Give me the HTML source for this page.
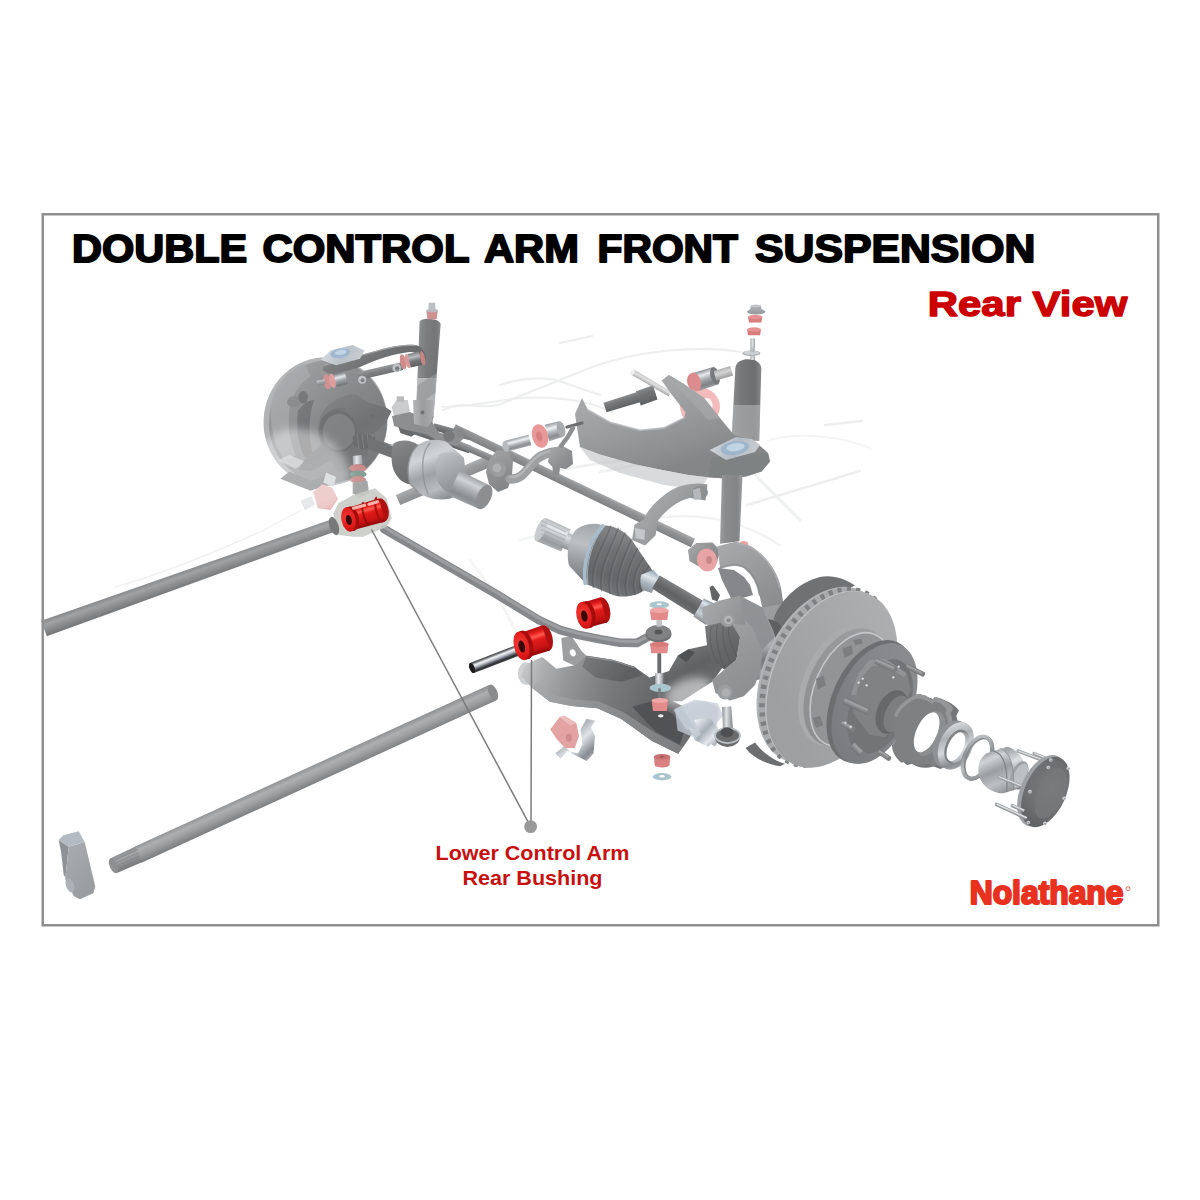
<!DOCTYPE html>
<html><head><meta charset="utf-8">
<style>
html,body{margin:0;padding:0;background:#fff;}
body{width:1200px;height:1200px;overflow:hidden;position:relative;font-family:"Liberation Sans",sans-serif;}
svg{position:absolute;left:0;top:0;}
text{font-family:"Liberation Sans",sans-serif;font-weight:bold;}
</style></head><body>
<svg width="1200" height="1200" viewBox="0 0 1200 1200">
<defs>
<filter id="b1" x="-10%" y="-10%" width="120%" height="120%"><feGaussianBlur stdDeviation="0.6"/></filter>
<filter id="b2" x="-20%" y="-20%" width="140%" height="140%"><feGaussianBlur stdDeviation="1.5"/></filter>
<filter id="b4" x="-30%" y="-30%" width="160%" height="160%"><feGaussianBlur stdDeviation="4"/></filter>
<linearGradient id="g1" gradientUnits="userSpaceOnUse" x1="186.1" y1="570.2" x2="190.9" y2="583.8"><stop offset="0" stop-color="#888a8c"/><stop offset="0.3" stop-color="#a0a2a4"/><stop offset="0.55" stop-color="#929496"/><stop offset="1" stop-color="#787a7c"/></linearGradient>
<linearGradient id="g2" gradientUnits="userSpaceOnUse" x1="311.7" y1="765.9" x2="318.8" y2="781.6"><stop offset="0" stop-color="#909294"/><stop offset="0.3" stop-color="#adafb1"/><stop offset="0.6" stop-color="#9c9ea0"/><stop offset="1" stop-color="#7e8082"/></linearGradient>
<linearGradient id="g3" gradientUnits="userSpaceOnUse" x1="122.9" y1="852.4" x2="129.6" y2="867.5"><stop offset="0" stop-color="#8a8c8e"/><stop offset="0.3" stop-color="#a4a6a8"/><stop offset="1" stop-color="#77797b"/></linearGradient>
<linearGradient id="g4" gradientUnits="userSpaceOnUse" x1="66.7" y1="853.3" x2="96.0" y2="880.0"><stop offset="0" stop-color="#a6aaae"/><stop offset="1" stop-color="#9a9ea2"/></linearGradient>
<linearGradient id="g5" gradientUnits="userSpaceOnUse" x1="100.0" y1="500.0" x2="700.0" y2="900.0"><stop offset="0" stop-color="#8a8c8e"/><stop offset="0.5" stop-color="#7a7c7e"/><stop offset="1" stop-color="#707274"/></linearGradient>
<linearGradient id="g6" gradientUnits="userSpaceOnUse" x1="915.0" y1="0.0" x2="1040.0" y2="0.0"><stop offset="0" stop-color="#828486"/><stop offset="0.35" stop-color="#6e7072"/><stop offset="0.8" stop-color="#66686a"/><stop offset="1" stop-color="#7e8082"/></linearGradient>
<linearGradient id="g7" gradientUnits="userSpaceOnUse" x1="379.3" y1="367.2" x2="381.1" y2="375.0"><stop offset="0" stop-color="#8c8e90"/><stop offset="0.4" stop-color="#747678"/><stop offset="1" stop-color="#5f6163"/></linearGradient>
<linearGradient id="g8" gradientUnits="userSpaceOnUse" x1="500.0" y1="330.0" x2="560.0" y2="450.0"><stop offset="0" stop-color="#8e9092"/><stop offset="0.35" stop-color="#66686a"/><stop offset="1" stop-color="#5c5e60"/></linearGradient>
<linearGradient id="g9" gradientUnits="userSpaceOnUse" x1="400.0" y1="310.0" x2="620.0" y2="400.0"><stop offset="0" stop-color="#d0d4d8"/><stop offset="0.5" stop-color="#aeb8c0"/><stop offset="1" stop-color="#c4c8cc"/></linearGradient>
<linearGradient id="g10" gradientUnits="userSpaceOnUse" x1="339.2" y1="373.3" x2="342.3" y2="385.4"><stop offset="0" stop-color="#6c7073"/><stop offset="0.3" stop-color="#e0e4e6"/><stop offset="0.6" stop-color="#8e9295"/><stop offset="1" stop-color="#5c5e60"/></linearGradient>
<linearGradient id="g11" gradientUnits="userSpaceOnUse" x1="320.5" y1="380.1" x2="321.6" y2="385.0"><stop offset="0" stop-color="#c0c4c7"/><stop offset="0.5" stop-color="#8e9295"/><stop offset="1" stop-color="#707274"/></linearGradient>
<linearGradient id="g12" gradientUnits="userSpaceOnUse" x1="413.3" y1="352.7" x2="416.4" y2="366.3"><stop offset="0" stop-color="#707274"/><stop offset="0.3" stop-color="#b4b8bb"/><stop offset="0.6" stop-color="#66686a"/><stop offset="1" stop-color="#4e5052"/></linearGradient>
<linearGradient id="g13" gradientUnits="userSpaceOnUse" x1="400.0" y1="580.0" x2="640.0" y2="980.0"><stop offset="0" stop-color="#747678"/><stop offset="0.5" stop-color="#646668"/><stop offset="1" stop-color="#707274"/></linearGradient>
<linearGradient id="g14" gradientUnits="userSpaceOnUse" x1="442.0" y1="435.6" x2="439.4" y2="443.2"><stop offset="0" stop-color="#86888a"/><stop offset="0.4" stop-color="#707274"/><stop offset="1" stop-color="#5c5e60"/></linearGradient>
<linearGradient id="g15" gradientUnits="userSpaceOnUse" x1="452.6" y1="428.3" x2="450.7" y2="435.0"><stop offset="0" stop-color="#86888a"/><stop offset="0.4" stop-color="#707274"/><stop offset="1" stop-color="#5c5e60"/></linearGradient>
<linearGradient id="g16" gradientUnits="userSpaceOnUse" x1="387.5" y1="443.3" x2="383.8" y2="452.1"><stop offset="0" stop-color="#77797b"/><stop offset="0.4" stop-color="#5f6163"/><stop offset="1" stop-color="#4e5052"/></linearGradient>
<linearGradient id="g17" gradientUnits="userSpaceOnUse" x1="394.2" y1="445.2" x2="389.6" y2="455.7"><stop offset="0" stop-color="#9a9ea1"/><stop offset="0.4" stop-color="#e0e4e6"/><stop offset="1" stop-color="#7e8285"/></linearGradient>
<linearGradient id="g18" gradientUnits="userSpaceOnUse" x1="560.0" y1="0.0" x2="615.0" y2="0.0"><stop offset="0" stop-color="#9a9ea1"/><stop offset="0.4" stop-color="#e4e8ea"/><stop offset="1" stop-color="#8a8e91"/></linearGradient>
<linearGradient id="g19" gradientUnits="userSpaceOnUse" x1="250.0" y1="300.0" x2="440.0" y2="500.0"><stop offset="0" stop-color="#ffffff" stop-opacity="0.3"/><stop offset="0.5" stop-color="#ffffff" stop-opacity="0.1"/><stop offset="1" stop-color="#ffffff" stop-opacity="0"/></linearGradient>
<linearGradient id="g20" gradientUnits="userSpaceOnUse" x1="652.6" y1="380.7" x2="649.9" y2="385.5"><stop offset="0" stop-color="#c9c9c9"/><stop offset="0.4" stop-color="#e2e2e2"/><stop offset="1" stop-color="#a9a9a9"/></linearGradient>
<linearGradient id="g21" gradientUnits="userSpaceOnUse" x1="800.0" y1="0.0" x2="970.0" y2="0.0"><stop offset="0" stop-color="#86888a"/><stop offset="0.3" stop-color="#747678"/><stop offset="0.75" stop-color="#6c6e70"/><stop offset="1" stop-color="#888a8c"/></linearGradient>
<linearGradient id="g22" gradientUnits="userSpaceOnUse" x1="902.0" y1="0.0" x2="930.0" y2="0.0"><stop offset="0" stop-color="#aaaeb2"/><stop offset="0.5" stop-color="#dfe3e5"/><stop offset="1" stop-color="#9a9ea2"/></linearGradient>
<linearGradient id="g23" gradientUnits="userSpaceOnUse" x1="628.4" y1="394.7" x2="631.6" y2="404.8"><stop offset="0" stop-color="#8a8c8e"/><stop offset="0.3" stop-color="#77797b"/><stop offset="1" stop-color="#5f6163"/></linearGradient>
<linearGradient id="g24" gradientUnits="userSpaceOnUse" x1="644.2" y1="388.3" x2="649.1" y2="402.5"><stop offset="0" stop-color="#8a8c8e"/><stop offset="0.3" stop-color="#747678"/><stop offset="1" stop-color="#5f6163"/></linearGradient>
<linearGradient id="g25" gradientUnits="userSpaceOnUse" x1="300.0" y1="560.0" x2="420.0" y2="930.0"><stop offset="0" stop-color="#a4a6a8"/><stop offset="0.4" stop-color="#989a9c"/><stop offset="0.8" stop-color="#8c8e90"/><stop offset="1" stop-color="#848688"/></linearGradient>
<linearGradient id="g26" gradientUnits="userSpaceOnUse" x1="750.0" y1="740.0" x2="1000.0" y2="850.0"><stop offset="0" stop-color="#d4d8dc"/><stop offset="0.5" stop-color="#b4bcc4"/><stop offset="1" stop-color="#ccd0d4"/></linearGradient>
<linearGradient id="g27" gradientUnits="userSpaceOnUse" x1="702.6" y1="370.1" x2="708.2" y2="387.7"><stop offset="0" stop-color="#8e9295"/><stop offset="0.25" stop-color="#e6eaec"/><stop offset="0.5" stop-color="#a8acaf"/><stop offset="0.8" stop-color="#7e8285"/><stop offset="1" stop-color="#9a9ea1"/></linearGradient>
<linearGradient id="g28" gradientUnits="userSpaceOnUse" x1="721.9" y1="368.5" x2="724.8" y2="378.1"><stop offset="0" stop-color="#b0b0b0"/><stop offset="0.4" stop-color="#d6d6d6"/><stop offset="1" stop-color="#9c9c9c"/></linearGradient>
<linearGradient id="g29" gradientUnits="userSpaceOnUse" x1="442.7" y1="474.7" x2="447.3" y2="485.3"><stop offset="0" stop-color="#a8aaac"/><stop offset="0.5" stop-color="#929496"/><stop offset="1" stop-color="#86888a"/></linearGradient>
<linearGradient id="g30" gradientUnits="userSpaceOnUse" x1="451.3" y1="437.5" x2="448.7" y2="443.5"><stop offset="0" stop-color="#a0a2a4"/><stop offset="0.4" stop-color="#8a8c8e"/><stop offset="1" stop-color="#747678"/></linearGradient>
<linearGradient id="g31" gradientUnits="userSpaceOnUse" x1="575.5" y1="481.4" x2="571.5" y2="489.6"><stop offset="0" stop-color="#a6a8aa"/><stop offset="0.3" stop-color="#929496"/><stop offset="1" stop-color="#7e8082"/></linearGradient>
<linearGradient id="g32" gradientUnits="userSpaceOnUse" x1="165.0" y1="0.0" x2="265.0" y2="0.0"><stop offset="0" stop-color="#b4b6b8"/><stop offset="0.5" stop-color="#9a9c9e"/><stop offset="1" stop-color="#aaacae"/></linearGradient>
<linearGradient id="g33" gradientUnits="userSpaceOnUse" x1="540.0" y1="250.0" x2="660.0" y2="460.0"><stop offset="0" stop-color="#a4a6a8"/><stop offset="0.5" stop-color="#8e9092"/><stop offset="1" stop-color="#7e8082"/></linearGradient>
<linearGradient id="g34" gradientUnits="userSpaceOnUse" x1="840.0" y1="230.0" x2="960.0" y2="370.0"><stop offset="0" stop-color="#a8aaac"/><stop offset="0.5" stop-color="#909294"/><stop offset="1" stop-color="#808284"/></linearGradient>
<linearGradient id="g35" gradientUnits="userSpaceOnUse" x1="516.4" y1="437.9" x2="519.2" y2="448.5"><stop offset="0" stop-color="#9a9ea1"/><stop offset="0.3" stop-color="#eef2f4"/><stop offset="0.55" stop-color="#b0b4b7"/><stop offset="0.8" stop-color="#8a8e91"/><stop offset="1" stop-color="#a4a8ab"/></linearGradient>
<linearGradient id="g36" gradientUnits="userSpaceOnUse" x1="551.7" y1="423.1" x2="556.3" y2="438.9"><stop offset="0" stop-color="#9a9ea1"/><stop offset="0.3" stop-color="#eef2f4"/><stop offset="0.55" stop-color="#b0b4b7"/><stop offset="0.8" stop-color="#8a8e91"/><stop offset="1" stop-color="#a4a8ab"/></linearGradient>
<linearGradient id="g37" gradientUnits="userSpaceOnUse" x1="70.0" y1="210.0" x2="160.0" y2="420.0"><stop offset="0" stop-color="#86888a"/><stop offset="0.5" stop-color="#747678"/><stop offset="1" stop-color="#6a6c6e"/></linearGradient>
<linearGradient id="g38" gradientUnits="userSpaceOnUse" x1="200.0" y1="200.0" x2="320.0" y2="500.0"><stop offset="0" stop-color="#b4b8bb"/><stop offset="0.3" stop-color="#d0d4d6"/><stop offset="0.55" stop-color="#9ea2a5"/><stop offset="0.8" stop-color="#b8bcbe"/><stop offset="1" stop-color="#888c8f"/></linearGradient>
<linearGradient id="g39" gradientUnits="userSpaceOnUse" x1="300.0" y1="260.0" x2="400.0" y2="470.0"><stop offset="0" stop-color="#c0c4c6"/><stop offset="0.4" stop-color="#a8acaf"/><stop offset="1" stop-color="#868a8d"/></linearGradient>
<linearGradient id="g40" gradientUnits="userSpaceOnUse" x1="474.6" y1="478.0" x2="463.4" y2="502.0"><stop offset="0" stop-color="#a0a4a7"/><stop offset="0.25" stop-color="#d0d4d6"/><stop offset="0.5" stop-color="#acb0b3"/><stop offset="0.8" stop-color="#888c8f"/><stop offset="1" stop-color="#9a9ea1"/></linearGradient>
<linearGradient id="g41" gradientUnits="userSpaceOnUse" x1="300.0" y1="340.0" x2="560.0" y2="580.0"><stop offset="0" stop-color="#b0b2b4"/><stop offset="0.5" stop-color="#9a9c9e"/><stop offset="1" stop-color="#8a8c8e"/></linearGradient>
<linearGradient id="g42" gradientUnits="userSpaceOnUse" x1="515.0" y1="570.0" x2="630.0" y2="665.0"><stop offset="0" stop-color="#a6a8aa"/><stop offset="0.6" stop-color="#8e9092"/><stop offset="1" stop-color="#7e8082"/></linearGradient>
<linearGradient id="g43" gradientUnits="userSpaceOnUse" x1="558.4" y1="523.8" x2="548.6" y2="546.2"><stop offset="0" stop-color="#b4b8bb"/><stop offset="0.25" stop-color="#e6eaec"/><stop offset="0.5" stop-color="#bcc0c3"/><stop offset="0.8" stop-color="#989ca0"/><stop offset="1" stop-color="#aaaeb1"/></linearGradient>
<linearGradient id="g44" gradientUnits="userSpaceOnUse" x1="574.3" y1="535.5" x2="567.7" y2="550.0"><stop offset="0" stop-color="#b0b4b7"/><stop offset="0.3" stop-color="#dcdfe1"/><stop offset="1" stop-color="#8e9295"/></linearGradient>
<linearGradient id="g45" gradientUnits="userSpaceOnUse" x1="380.0" y1="210.0" x2="320.0" y2="520.0"><stop offset="0" stop-color="#a6aaad"/><stop offset="0.35" stop-color="#bcc0c2"/><stop offset="0.7" stop-color="#989c9f"/><stop offset="1" stop-color="#808386"/></linearGradient>
<linearGradient id="g46" gradientUnits="userSpaceOnUse" x1="640.0" y1="280.0" x2="520.0" y2="640.0"><stop offset="0" stop-color="#808284"/><stop offset="0.25" stop-color="#6f7173"/><stop offset="0.7" stop-color="#646668"/><stop offset="1" stop-color="#77797b"/></linearGradient>
<linearGradient id="g47" gradientUnits="userSpaceOnUse" x1="800.0" y1="490.0" x2="750.0" y2="610.0"><stop offset="0" stop-color="#9fb0c0"/><stop offset="0.3" stop-color="#e0e6ea"/><stop offset="0.6" stop-color="#aab6c0"/><stop offset="1" stop-color="#8a9096"/></linearGradient>
<linearGradient id="g48" gradientUnits="userSpaceOnUse" x1="682.9" y1="589.0" x2="674.6" y2="602.7"><stop offset="0" stop-color="#808284"/><stop offset="0.25" stop-color="#707274"/><stop offset="0.6" stop-color="#5f6163"/><stop offset="1" stop-color="#6c6e70"/></linearGradient>
<linearGradient id="g49" gradientUnits="userSpaceOnUse" x1="710.7" y1="601.7" x2="699.7" y2="620.8"><stop offset="0" stop-color="#8a9aa8"/><stop offset="0.2" stop-color="#dfe5e9"/><stop offset="0.45" stop-color="#aab6c0"/><stop offset="0.7" stop-color="#c8d0d6"/><stop offset="1" stop-color="#868c92"/></linearGradient>
<linearGradient id="g50" gradientUnits="userSpaceOnUse" x1="780.0" y1="330.0" x2="900.0" y2="540.0"><stop offset="0" stop-color="#77797b"/><stop offset="0.5" stop-color="#5f6163"/><stop offset="1" stop-color="#6c6e70"/></linearGradient>
<linearGradient id="g51" gradientUnits="userSpaceOnUse" x1="100.0" y1="420.0" x2="860.0" y2="700.0"><stop offset="0" stop-color="#c6c8ca"/><stop offset="0.12" stop-color="#aaacae"/><stop offset="0.28" stop-color="#929496"/><stop offset="0.5" stop-color="#787a7c"/><stop offset="0.78" stop-color="#646668"/><stop offset="1" stop-color="#6c6e70"/></linearGradient>
<linearGradient id="g52" gradientUnits="userSpaceOnUse" x1="420.0" y1="350.0" x2="560.0" y2="470.0"><stop offset="0" stop-color="#747678"/><stop offset="1" stop-color="#5c5e60"/></linearGradient>
<linearGradient id="g53" gradientUnits="userSpaceOnUse" x1="150.0" y1="500.0" x2="820.0" y2="800.0"><stop offset="0" stop-color="#a8aaac"/><stop offset="0.4" stop-color="#8e9092"/><stop offset="1" stop-color="#7c7e80"/></linearGradient>
<linearGradient id="g54" gradientUnits="userSpaceOnUse" x1="880.0" y1="680.0" x2="1000.0" y2="760.0"><stop offset="0" stop-color="#f0f4f6"/><stop offset="0.4" stop-color="#a6aeb6"/><stop offset="0.7" stop-color="#e6eaee"/><stop offset="1" stop-color="#8c9298"/></linearGradient>
<linearGradient id="g55" gradientUnits="userSpaceOnUse" x1="160.0" y1="0.0" x2="245.0" y2="0.0"><stop offset="0" stop-color="#9c9ea0"/><stop offset="0.25" stop-color="#8a8c8e"/><stop offset="0.8" stop-color="#828486"/><stop offset="1" stop-color="#96989a"/></linearGradient>
<linearGradient id="g56" gradientUnits="userSpaceOnUse" x1="200.0" y1="90.0" x2="380.0" y2="340.0"><stop offset="0" stop-color="#a6a8aa"/><stop offset="0.4" stop-color="#9a9c9e"/><stop offset="1" stop-color="#8a8c8e"/></linearGradient>
<linearGradient id="g57" gradientUnits="userSpaceOnUse" x1="300.0" y1="420.0" x2="390.0" y2="640.0"><stop offset="0" stop-color="#8e9295"/><stop offset="0.3" stop-color="#c8ccce"/><stop offset="0.5" stop-color="#74787b"/><stop offset="0.75" stop-color="#b4b8ba"/><stop offset="1" stop-color="#707477"/></linearGradient>
<linearGradient id="g58" gradientUnits="userSpaceOnUse" x1="280.0" y1="420.0" x2="360.0" y2="620.0"><stop offset="0" stop-color="#808386"/><stop offset="0.4" stop-color="#aeb2b5"/><stop offset="0.7" stop-color="#74787b"/><stop offset="1" stop-color="#909497"/></linearGradient>
<linearGradient id="g59" gradientUnits="userSpaceOnUse" x1="150.0" y1="320.0" x2="360.0" y2="700.0"><stop offset="0" stop-color="#a4a6a8"/><stop offset="0.5" stop-color="#96989a"/><stop offset="1" stop-color="#8a8c8e"/></linearGradient>
<linearGradient id="g60" gradientUnits="userSpaceOnUse" x1="90.0" y1="320.0" x2="250.0" y2="430.0"><stop offset="0" stop-color="#a8aaac"/><stop offset="1" stop-color="#8e9092"/></linearGradient>
<linearGradient id="g61" gradientUnits="userSpaceOnUse" x1="110.0" y1="420.0" x2="220.0" y2="590.0"><stop offset="0" stop-color="#77797b"/><stop offset="0.5" stop-color="#66686a"/><stop offset="1" stop-color="#5d5f61"/></linearGradient>
<linearGradient id="g62" gradientUnits="userSpaceOnUse" x1="60.0" y1="800.0" x2="160.0" y2="900.0"><stop offset="0" stop-color="#eef2f4"/><stop offset="0.4" stop-color="#a8b0b8"/><stop offset="0.7" stop-color="#e4e8ec"/><stop offset="1" stop-color="#8c9298"/></linearGradient>
<linearGradient id="g63" gradientUnits="userSpaceOnUse" x1="168.0" y1="0.0" x2="212.0" y2="0.0"><stop offset="0" stop-color="#8e9295"/><stop offset="0.4" stop-color="#dfe3e5"/><stop offset="1" stop-color="#7e8285"/></linearGradient>
<linearGradient id="g64" gradientUnits="userSpaceOnUse" x1="790.0" y1="720.0" x2="880.0" y2="620.0"><stop offset="0" stop-color="#9d9fa1"/><stop offset="0.6" stop-color="#a6a8aa"/><stop offset="1" stop-color="#acaeb0"/></linearGradient>
<linearGradient id="g65" gradientUnits="userSpaceOnUse" x1="800.0" y1="730.0" x2="880.0" y2="640.0"><stop offset="0" stop-color="#8c8e90"/><stop offset="1" stop-color="#9ea0a2"/></linearGradient>
<linearGradient id="g66" gradientUnits="userSpaceOnUse" x1="840.0" y1="740.0" x2="910.0" y2="660.0"><stop offset="0" stop-color="#7a7c80"/><stop offset="1" stop-color="#8a8c8e"/></linearGradient>
<linearGradient id="g67" gradientUnits="userSpaceOnUse" x1="886.6" y1="662.4" x2="884.1" y2="667.9"><stop offset="0" stop-color="#6f7173"/><stop offset="0.3" stop-color="#a2a4a6"/><stop offset="1" stop-color="#6f7173"/></linearGradient>
<linearGradient id="g68" gradientUnits="userSpaceOnUse" x1="916.1" y1="668.0" x2="913.9" y2="672.4"><stop offset="0" stop-color="#6f7173"/><stop offset="0.3" stop-color="#a2a4a6"/><stop offset="1" stop-color="#6f7173"/></linearGradient>
<linearGradient id="g69" gradientUnits="userSpaceOnUse" x1="858.1" y1="703.1" x2="855.2" y2="709.5"><stop offset="0" stop-color="#6f7173"/><stop offset="0.3" stop-color="#a2a4a6"/><stop offset="1" stop-color="#6f7173"/></linearGradient>
<linearGradient id="g70" gradientUnits="userSpaceOnUse" x1="848.8" y1="723.4" x2="845.9" y2="728.6"><stop offset="0" stop-color="#6f7173"/><stop offset="0.3" stop-color="#a2a4a6"/><stop offset="1" stop-color="#6f7173"/></linearGradient>
<linearGradient id="g71" gradientUnits="userSpaceOnUse" x1="860.3" y1="747.0" x2="855.0" y2="752.3"><stop offset="0" stop-color="#6f7173"/><stop offset="0.3" stop-color="#a2a4a6"/><stop offset="1" stop-color="#6f7173"/></linearGradient>
<linearGradient id="g72" gradientUnits="userSpaceOnUse" x1="885.4" y1="752.9" x2="882.6" y2="757.1"><stop offset="0" stop-color="#6f7173"/><stop offset="0.3" stop-color="#a2a4a6"/><stop offset="1" stop-color="#6f7173"/></linearGradient>
<linearGradient id="g73" gradientUnits="userSpaceOnUse" x1="0.0" y1="0.0" x2="0.0" y2="1.0"><stop offset="0" stop-color="#000"/></linearGradient>
<linearGradient id="g74" gradientUnits="userSpaceOnUse" x1="230.0" y1="400.0" x2="440.0" y2="640.0"><stop offset="0" stop-color="#e4e8ea"/><stop offset="0.3" stop-color="#aeb2b5"/><stop offset="0.55" stop-color="#d4d8da"/><stop offset="0.8" stop-color="#8a8e91"/><stop offset="1" stop-color="#b8bcbf"/></linearGradient>
<linearGradient id="g75" gradientUnits="userSpaceOnUse" x1="300.0" y1="440.0" x2="400.0" y2="620.0"><stop offset="0" stop-color="#8c9093"/><stop offset="0.5" stop-color="#dfe3e5"/><stop offset="1" stop-color="#a4a8ab"/></linearGradient>
<linearGradient id="g76" gradientUnits="userSpaceOnUse" x1="380.0" y1="460.0" x2="540.0" y2="720.0"><stop offset="0" stop-color="#c4c8ca"/><stop offset="0.4" stop-color="#8e9295"/><stop offset="0.7" stop-color="#b8bcbe"/><stop offset="1" stop-color="#808487"/></linearGradient>
<linearGradient id="g77" gradientUnits="userSpaceOnUse" x1="560.0" y1="520.0" x2="680.0" y2="800.0"><stop offset="0" stop-color="#8e9295"/><stop offset="0.2" stop-color="#cfd3d5"/><stop offset="0.45" stop-color="#9a9ea1"/><stop offset="0.7" stop-color="#bcc0c2"/><stop offset="1" stop-color="#828689"/></linearGradient>
<linearGradient id="g78" gradientUnits="userSpaceOnUse" x1="640.0" y1="540.0" x2="740.0" y2="780.0"><stop offset="0" stop-color="#a0a4a7"/><stop offset="0.3" stop-color="#dce0e2"/><stop offset="0.6" stop-color="#969a9d"/><stop offset="1" stop-color="#787c82"/></linearGradient>
<linearGradient id="g79" gradientUnits="userSpaceOnUse" x1="1033.5" y1="755.2" x2="1032.4" y2="758.2"><stop offset="0" stop-color="#8e9295"/><stop offset="0.35" stop-color="#e6eaec"/><stop offset="0.7" stop-color="#a2a6a9"/><stop offset="1" stop-color="#7e8285"/></linearGradient>
<linearGradient id="g80" gradientUnits="userSpaceOnUse" x1="1042.3" y1="755.2" x2="1041.1" y2="758.2"><stop offset="0" stop-color="#8e9295"/><stop offset="0.35" stop-color="#e6eaec"/><stop offset="0.7" stop-color="#a2a6a9"/><stop offset="1" stop-color="#7e8285"/></linearGradient>
<linearGradient id="g81" gradientUnits="userSpaceOnUse" x1="1013.9" y1="781.4" x2="1012.7" y2="784.4"><stop offset="0" stop-color="#8e9295"/><stop offset="0.35" stop-color="#e6eaec"/><stop offset="0.7" stop-color="#a2a6a9"/><stop offset="1" stop-color="#7e8285"/></linearGradient>
<radialGradient id="g82" gradientUnits="userSpaceOnUse" cx="900.0" cy="760.0" r="230.0"><stop offset="0" stop-color="#7b7d7f"/><stop offset="0.7" stop-color="#6c6e70"/><stop offset="1" stop-color="#606264"/></radialGradient>
<linearGradient id="g83" gradientUnits="userSpaceOnUse" x1="1012.0" y1="809.6" x2="1010.5" y2="812.9"><stop offset="0" stop-color="#8e9295"/><stop offset="0.35" stop-color="#e6eaec"/><stop offset="0.7" stop-color="#a2a6a9"/><stop offset="1" stop-color="#7e8285"/></linearGradient>
<linearGradient id="g84" gradientUnits="userSpaceOnUse" x1="1018.6" y1="806.5" x2="1017.2" y2="809.6"><stop offset="0" stop-color="#8e9295"/><stop offset="0.35" stop-color="#e6eaec"/><stop offset="0.7" stop-color="#a2a6a9"/><stop offset="1" stop-color="#7e8285"/></linearGradient>
<linearGradient id="g85" gradientUnits="userSpaceOnUse" x1="716.0" y1="0.0" x2="754.0" y2="0.0"><stop offset="0" stop-color="#9a9ea2"/><stop offset="0.4" stop-color="#eceff1"/><stop offset="1" stop-color="#8a8e92"/></linearGradient>
<linearGradient id="g86" gradientUnits="userSpaceOnUse" x1="260.0" y1="650.0" x2="440.0" y2="840.0"><stop offset="0" stop-color="#e8ecee"/><stop offset="0.3" stop-color="#9aa0a6"/><stop offset="0.55" stop-color="#e0e4e8"/><stop offset="0.8" stop-color="#868c92"/><stop offset="1" stop-color="#c8ccd0"/></linearGradient>
<linearGradient id="g87" gradientUnits="userSpaceOnUse" x1="362.1" y1="503.5" x2="368.4" y2="526.0"><stop offset="0" stop-color="#b00d0d"/><stop offset="0.18" stop-color="#e82020"/><stop offset="0.32" stop-color="#ff5a50"/><stop offset="0.45" stop-color="#e41c1c"/><stop offset="0.8" stop-color="#c51212"/><stop offset="1" stop-color="#8e0808"/></linearGradient>
<linearGradient id="g88" gradientUnits="userSpaceOnUse" x1="346.8" y1="507.2" x2="353.5" y2="530.9"><stop offset="0" stop-color="#b00d0d"/><stop offset="0.18" stop-color="#e82020"/><stop offset="0.32" stop-color="#ff5a50"/><stop offset="0.45" stop-color="#e41c1c"/><stop offset="0.8" stop-color="#c51212"/><stop offset="1" stop-color="#8e0808"/></linearGradient>
<radialGradient id="g89" gradientUnits="userSpaceOnUse" cx="347.5" cy="516.5" r="14.8"><stop offset="0" stop-color="#f23a34"/><stop offset="0.7" stop-color="#e01a1a"/><stop offset="1" stop-color="#c81212"/></radialGradient>
<linearGradient id="g90" gradientUnits="userSpaceOnUse" x1="493.5" y1="653.9" x2="497.5" y2="664.1"><stop offset="0" stop-color="#3a3a3a"/><stop offset="0.12" stop-color="#70747a"/><stop offset="0.3" stop-color="#f0f2f4"/><stop offset="0.48" stop-color="#c0c6cc"/><stop offset="0.66" stop-color="#6a7078"/><stop offset="0.84" stop-color="#2c2c2e"/><stop offset="1" stop-color="#505254"/></linearGradient>
<linearGradient id="g91" gradientUnits="userSpaceOnUse" x1="529.8" y1="629.8" x2="537.7" y2="654.2"><stop offset="0" stop-color="#b00d0d"/><stop offset="0.18" stop-color="#e82020"/><stop offset="0.32" stop-color="#ff5a50"/><stop offset="0.45" stop-color="#e41c1c"/><stop offset="0.8" stop-color="#c51212"/><stop offset="1" stop-color="#8e0808"/></linearGradient>
<linearGradient id="g92" gradientUnits="userSpaceOnUse" x1="518.9" y1="631.6" x2="527.9" y2="659.2"><stop offset="0" stop-color="#b00d0d"/><stop offset="0.18" stop-color="#e82020"/><stop offset="0.32" stop-color="#ff5a50"/><stop offset="0.45" stop-color="#e41c1c"/><stop offset="0.8" stop-color="#c51212"/><stop offset="1" stop-color="#8e0808"/></linearGradient>
<radialGradient id="g93" gradientUnits="userSpaceOnUse" cx="520.5" cy="643.0" r="17.4"><stop offset="0" stop-color="#f23a34"/><stop offset="0.7" stop-color="#e01a1a"/><stop offset="1" stop-color="#c81212"/></radialGradient>
<linearGradient id="g94" gradientUnits="userSpaceOnUse" x1="590.3" y1="600.4" x2="597.2" y2="625.1"><stop offset="0" stop-color="#b00d0d"/><stop offset="0.18" stop-color="#e82020"/><stop offset="0.32" stop-color="#ff5a50"/><stop offset="0.45" stop-color="#e41c1c"/><stop offset="0.8" stop-color="#c51212"/><stop offset="1" stop-color="#8e0808"/></linearGradient>
<linearGradient id="g95" gradientUnits="userSpaceOnUse" x1="582.3" y1="602.0" x2="589.6" y2="628.0"><stop offset="0" stop-color="#b00d0d"/><stop offset="0.18" stop-color="#e82020"/><stop offset="0.32" stop-color="#ff5a50"/><stop offset="0.45" stop-color="#e41c1c"/><stop offset="0.8" stop-color="#c51212"/><stop offset="1" stop-color="#8e0808"/></linearGradient>
<radialGradient id="g96" gradientUnits="userSpaceOnUse" cx="583.0" cy="612.5" r="16.2"><stop offset="0" stop-color="#f23a34"/><stop offset="0.7" stop-color="#e01a1a"/><stop offset="1" stop-color="#c81212"/></radialGradient>
</defs>
<rect x="0" y="0" width="1200" height="1200" fill="#fff"/>
<g id="art">
<path d="M443,410 C467,398 487,414 510,400 L560,380 L592,367 C640,350 700,345 740,352" fill="none" stroke="#ebecec" stroke-width="2.2" opacity="0.9" stroke-linecap="round" stroke-linejoin="round"/>
<path d="M560,343 L592,336" fill="none" stroke="#ebecec" stroke-width="2.2" opacity="0.9" stroke-linecap="round" stroke-linejoin="round"/>
<path d="M500,385 C520,378 545,376 562,382 L600,395" fill="none" stroke="#ebecec" stroke-width="2.2" opacity="0.9" stroke-linecap="round" stroke-linejoin="round"/>
<path d="M470,405 L520,398 C560,396 590,402 612,412" fill="none" stroke="#ebecec" stroke-width="2" opacity="0.9" stroke-linecap="round" stroke-linejoin="round"/>
<path d="M747,505 L860,471" fill="none" stroke="#ebecec" stroke-width="2.5" opacity="0.9" stroke-linecap="round" stroke-linejoin="round"/>
<path d="M825,425 L862,421" fill="none" stroke="#ebecec" stroke-width="2.5" opacity="0.9" stroke-linecap="round" stroke-linejoin="round"/>
<path d="M560,470 C640,455 700,452 750,470 L800,520" fill="none" stroke="#ebecec" stroke-width="3" opacity="0.8" stroke-linecap="round" stroke-linejoin="round"/>
<path d="M600,472 L712,450" fill="none" stroke="#ebecec" stroke-width="3" opacity="0.7" stroke-linecap="round" stroke-linejoin="round"/>
<path d="M640,520 C700,510 740,520 780,545" fill="none" stroke="#ebecec" stroke-width="2.5" opacity="0.7" stroke-linecap="round" stroke-linejoin="round"/>
<path d="M115,587 C160,575 215,552 260,532 L302,510" fill="none" stroke="#ededed" stroke-width="1.2" opacity="0.9" stroke-linecap="round" stroke-linejoin="round"/>
<path d="M442,407 L470,405.5" fill="none" stroke="#ebecec" stroke-width="1.5" opacity="0.9" stroke-linecap="round" stroke-linejoin="round"/>
<path d="M770,440 C800,432 840,436 870,448" fill="none" stroke="#ebecec" stroke-width="2" opacity="0.6" stroke-linecap="round" stroke-linejoin="round"/>
<path d="M520,540 C560,528 600,530 640,548" fill="none" stroke="#ebecec" stroke-width="2.5" opacity="0.6" stroke-linecap="round" stroke-linejoin="round"/>
<path d="M470,560 L500,600 L520,640" fill="none" stroke="#ebecec" stroke-width="3" opacity="0.5" stroke-linecap="round" stroke-linejoin="round"/>
<path d="M650,430 L760,400 L800,470 L700,520 Z" fill="#ffffff" opacity="0.0"/>
<polygon points="41.2,620.7 330.9,519.6 335.1,531.4 46.8,636.3" fill="url(#g1)" opacity="1" />
<polygon points="134.4,846.7 489.0,685.1 496.0,700.5 141.6,862.7" fill="url(#g2)" opacity="1" />
<polygon points="110.2,858.4 135.5,846.5 142.5,861.9 116.8,873.0" fill="url(#g3)" opacity="1" />
<line x1="114" y1="860.5" x2="138.5" y2="849.4" stroke="#7c7e80" stroke-width="0.8" opacity="0.7" />
<line x1="114" y1="863.8" x2="138.5" y2="852.6999999999999" stroke="#7c7e80" stroke-width="0.8" opacity="0.7" />
<line x1="114" y1="867.1" x2="138.5" y2="856.0" stroke="#7c7e80" stroke-width="0.8" opacity="0.7" />
<line x1="114" y1="870.4" x2="138.5" y2="859.3" stroke="#7c7e80" stroke-width="0.8" opacity="0.7" />
<ellipse cx="113.5" cy="865.8" rx="3.8" ry="8" fill="#8d8f91" opacity="1" transform="rotate(-24 113.5 865.8)" />
<ellipse cx="493" cy="692.6" rx="4.3" ry="8.5" fill="#8a8c8e" opacity="1" transform="rotate(-24 493 692.6)" />
<polygon points="58.7,840.0 68.7,846.7 65.3,878.7 74.0,896.0 80.0,899.3 73.3,892.0 63.7,874.7 61.1,852.0" fill="#8e9296" opacity="1" />
<polygon points="68.7,846.7 84.7,842.0 95.3,886.7 93.3,893.3 80.0,899.3 74.0,896.0 65.3,878.7" fill="url(#g4)" opacity="1" />
<polygon points="58.7,840.0 63.3,835.3 78.7,831.3 84.7,842.0 68.7,846.7" fill="#b2bac2" opacity="1" />
<ellipse cx="70.0" cy="885.3333333333334" rx="4" ry="7.5" fill="#aeb2b6" opacity="1" transform="rotate(-20 70.0 885.3333333333334)" />
<g transform="translate(250 290) scale(0.183335)" >
<ellipse cx="412" cy="718" rx="338" ry="352" fill="#a2a4a6" transform="rotate(8 412 718)"/>
<ellipse cx="425" cy="720" rx="322" ry="338" fill="url(#g5)" transform="rotate(8 425 720)"/>
<path d="M120,600 C150,500 220,430 300,400 L330,470 C270,510 230,570 215,650 C205,740 215,830 250,900 L190,930 C130,850 100,720 120,600 Z" fill="#96989a" opacity="0.9" />
<path d="M262,660 C290,620 320,600 350,600 C320,680 315,800 345,900 L300,915 C262,850 250,740 262,660 Z" fill="#5f6163" opacity="0.9" />
<path d="M165,1030 L215,990 L330,1040 L420,1010 L440,1060 L330,1095 Z" fill="#66686a" opacity="1" />
<path d="M150,930 L215,900 L300,935 L250,975 Z" fill="#c8cacc" opacity="0.7" />
<ellipse cx="240" cy="610" rx="38" ry="30" fill="#77797b"/><ellipse cx="290" cy="585" rx="26" ry="34" fill="#606264"/>
<path d="M925,175 C930,160 960,155 985,158 C1015,160 1035,170 1040,185 L1000,700 L905,700 Z" fill="url(#g6)" opacity="1" />
<path d="M912,480 L1020,480 L1000,700 L905,700 Z" fill="#c4c6c8" opacity="0.75" />
<path d="M915,520 L1015,455 L1010,560 L908,640 Z" fill="#8e9092" opacity="0.7" />
<path d="M880,690 L1000,690 L990,760 L900,765 Z" fill="#8c8e90" opacity="1" />
<circle cx="940" cy="668" r="9" fill="#5f6163"/>
<path d="M962,112 L1024,112 L1018,160 L968,160 Z" fill="#c98484" opacity="1" />
<ellipse cx="993" cy="112" rx="32" ry="10" fill="#b0b4b7"/>
<path d="M975,70 L1010,70 L1012,108 L973,108 Z" fill="#b4b8bb" opacity="1" />
</g>
<polygon points="357.3,372.3 401.3,362.2 403.1,370.0 359.1,380.1" fill="url(#g7)" opacity="1" />
<g transform="translate(250 290) scale(0.183335)" >
<path d="M395,405 C450,395 560,365 700,328 C780,306 860,296 900,300 C935,305 960,335 962,375 L930,390 C925,350 900,335 870,338 C800,345 700,372 600,420 L445,462 L400,440 Z" fill="url(#g8)" opacity="1" />
<path d="M400,410 C450,398 560,368 700,331 C780,309 860,299 900,303" fill="none" stroke="#a2a4a6" stroke-width="6" opacity="0.8" stroke-linecap="round" stroke-linejoin="round" />
<path d="M385,380 L440,330 L560,300 L625,330 L600,375 L470,410 Z" fill="url(#g9)" opacity="1" />
<ellipse cx="492" cy="345" rx="55" ry="26" fill="#8eaac6" transform="rotate(-10 492 345)"/><ellipse cx="495" cy="340" rx="32" ry="14" fill="#b4cce0" transform="rotate(-10 495 340)"/>
<ellipse cx="420" cy="500" rx="20" ry="42" fill="#cc8080" transform="rotate(-12 420 500)"/><ellipse cx="450" cy="495" rx="18" ry="40" fill="#d89090" transform="rotate(-12 450 495)"/>
</g>
<polygon points="333.7,374.4 344.8,372.2 347.7,383.8 336.8,387.1" fill="url(#g10)" opacity="1" />
<polygon points="316.4,381.1 324.6,379.2 325.7,384.1 317.5,385.9" fill="url(#g11)" opacity="1" />
<g transform="translate(250 290) scale(0.183335)" >
<ellipse cx="835" cy="392" rx="16" ry="42" fill="#cc8080" transform="rotate(-12 835 392)"/><ellipse cx="860" cy="388" rx="14" ry="40" fill="#d89090" transform="rotate(-12 860 388)"/>
</g>
<polygon points="407.6,353.9 419.0,351.4 422.0,365.0 410.7,367.6" fill="url(#g12)" opacity="1" />
<g transform="translate(250 290) scale(0.183335)" >
<ellipse cx="942" cy="372" rx="12" ry="40" fill="#c47878" transform="rotate(-12 942 372)"/>
<circle cx="612" cy="490" r="22" fill="#b8bcbf"/><circle cx="614" cy="492" r="11" fill="#707274"/>
<circle cx="800" cy="425" r="24" fill="#b8bcbf"/><circle cx="803" cy="428" r="12" fill="#707274"/>
<path d="M380,705 C395,650 450,590 540,570 L585,572 L640,612 L740,640 L772,662 L742,722 L700,762 L655,800 L640,900 L562,962 L482,992 L430,905 L400,860 L300,935 L262,985 L300,1010 L420,960 L470,1000 L540,1010 L640,960 L690,880 L700,800 L600,700 Z" fill="#8e9092" opacity="0" />
<path d="M380,705 C395,650 450,590 540,570 L585,572 L640,612 L740,640 L772,662 L742,722 L700,762 L655,800 L640,900 L562,962 L482,992 L440,930 L330,990 L265,980 L300,920 L385,850 Z" fill="url(#g13)" opacity="1" />
<ellipse cx="478" cy="770" rx="105" ry="115" fill="#606264"/><ellipse cx="485" cy="775" rx="88" ry="98" fill="#747678"/>
<path d="M390,720 C420,660 470,640 520,650" fill="none" stroke="#5f6163" stroke-width="7" opacity="0.7" stroke-linecap="round" stroke-linejoin="round" />
<circle cx="668" cy="688" r="13" fill="#606264"/>
<path d="M772,640 L800,600 L860,600 L872,660 L850,690 L790,700 Z" fill="#c6c8ca" opacity="1" />
<rect x="800" y="580" width="40" height="30" fill="#b4b6b8"/>
<path d="M795,700 L850,690 L900,720 L920,770 L880,800 L820,780 Z" fill="#606264" opacity="1" />
</g>
<polygon points="412.6,425.6 471.3,445.7 468.7,453.3 410.0,433.1" fill="url(#g14)" opacity="1" />
<polygon points="434.3,423.2 470.9,433.3 469.1,440.0 432.4,430.0" fill="url(#g15)" opacity="1" />
<g transform="translate(250 290) scale(0.183335)" >
<path d="M560,800 L600,778 L680,800 L690,860 L610,870 L565,850 Z" fill="#5f6163" opacity="1" />
<path d="M585,785 L593,862" fill="none" stroke="#8a8c8e" stroke-width="5" opacity="0.6" stroke-linecap="round" stroke-linejoin="round" />
<path d="M612,785 L620,862" fill="none" stroke="#8a8c8e" stroke-width="5" opacity="0.6" stroke-linecap="round" stroke-linejoin="round" />
<path d="M640,785 L648,862" fill="none" stroke="#8a8c8e" stroke-width="5" opacity="0.6" stroke-linecap="round" stroke-linejoin="round" />
<path d="M665,785 L673,862" fill="none" stroke="#8a8c8e" stroke-width="5" opacity="0.6" stroke-linecap="round" stroke-linejoin="round" />
</g>
<polygon points="376.4,438.9 398.6,447.6 394.7,456.9 372.9,447.2" fill="url(#g16)" opacity="1" />
<polygon points="391.2,444.1 397.2,446.2 392.4,457.2 386.8,454.2" fill="url(#g17)" opacity="1" />
<g transform="translate(250 290) scale(0.183335)" >
<path d="M560,905 L610,900 L615,950 L562,955 Z" fill="url(#g18)" opacity="1" />
<ellipse cx="588" cy="972" rx="46" ry="22" fill="#c88484"/><ellipse cx="590" cy="1005" rx="46" ry="20" fill="#7e9a90"/><ellipse cx="590" cy="1035" rx="44" ry="20" fill="#c88c8c"/>
<path d="M560,1050 L640,1040 L650,1110 L600,1130 L560,1110 Z" fill="#a0a2a4" opacity="1" />
<path d="M345,1100 L395,1060 L450,1080 L480,1140 L440,1200 L370,1190 Z" fill="#e0a4a4" opacity="1" />
<path d="M415,995 L470,1020 L455,1075 L400,1050 Z" fill="#c4c8cb" opacity="1" />
<path d="M275,1150 L335,1125 L355,1170 L300,1200 Z" fill="#d4d8da" opacity="1" />
</g>
<ellipse cx="305" cy="470" rx="48" ry="38" fill="#ffffff" opacity="0.42" filter="url(#b4)" transform="rotate(35 305 470)"/>
<rect x="240" y="290" width="260" height="240" fill="url(#g19)"/>
<g transform="translate(600 290) scale(0.166667)" >
</g>
<polygon points="633.9,369.6 671.4,391.8 668.6,396.5 631.1,374.4" fill="url(#g20)" opacity="1" />
<ellipse cx="632.5" cy="372.0" rx="2" ry="3" fill="#f0f0f0" opacity="1" transform="rotate(30 632.5 372.0)" />
<ellipse cx="700.0" cy="406.6666666666667" rx="20" ry="19" fill="#eda3a3" opacity="0.75" />
<ellipse cx="706.6666666666666" cy="405.0" rx="6" ry="7" fill="#ffffff" opacity="0.8" />
<g transform="translate(600 290) scale(0.166667)" >
<path d="M812,470 C815,430 850,415 890,415 C935,415 965,435 968,470 L955,905 L790,900 Z" fill="url(#g21)" opacity="1" />
<path d="M800,690 L962,690 L955,905 L790,900 Z" fill="#b4b6b8" opacity="0.6" />
<path d="M902,290 L930,290 L930,420 L902,420 Z" fill="url(#g22)" opacity="1" />
<ellipse cx="908" cy="380" rx="55" ry="17" fill="#aeb2b5"/><ellipse cx="908" cy="376" rx="48" ry="12" fill="#cfd3d5"/>
<path d="M902,345 L930,345 L930,375 L902,375 Z" fill="#b8bcbf" opacity="1" />
<path d="M882,235 L966,235 L960,272 L888,272 Z" fill="#d97c7c" opacity="1" />
<ellipse cx="924" cy="237" rx="42" ry="13" fill="#e79292"/>
<path d="M888,160 L974,160 L968,195 L894,195 Z" fill="#d97c7c" opacity="1" />
<ellipse cx="931" cy="162" rx="43" ry="13" fill="#e79292"/>
<ellipse cx="937" cy="130" rx="55" ry="17" fill="#9a9ea1"/>
<path d="M905,95 L965,95 L972,128 L900,128 Z" fill="#a4a8ab" opacity="1" />
<ellipse cx="935" cy="96" rx="30" ry="9" fill="#c2c6c9"/>
</g>
<g transform="translate(600 290) scale(0.166667)" >
</g>
<polygon points="603.5,402.7 653.4,386.7 656.6,397.3 606.5,412.3" fill="url(#g23)" opacity="1" />
<polygon points="635.9,391.3 652.5,385.4 657.5,399.6 640.8,405.4" fill="url(#g24)" opacity="1" />
<g transform="translate(600 290) scale(0.166667)" >
</g>
<g transform="translate(560 290) scale(0.200000)" >
<path d="M110,540 L75,620 L100,785 L200,822 L367,870 L500,898 L642,925 L740,936 L825,943 L930,932 L1008,907 L1050,858 L1040,815 L990,770 L960,750 L870,725 L800,640 L720,540 L620,470 L545,425 L508,452 L560,525 L628,612 L620,640 L520,690 L400,702 L250,662 L140,600 Z" fill="url(#g25)" opacity="1" />
<path d="M140,600 L250,662 L400,702 L520,690 L620,640" fill="none" stroke="#b1b3b5" stroke-width="9" opacity="0.8" stroke-linecap="round" stroke-linejoin="round" />
<path d="M545,425 L620,470 L720,540 L800,640 L740,650 L660,560 L590,490 L525,440 Z" fill="#a6a8aa" opacity="0.7" />
<path d="M760,835 L1040,815 L1050,858 L1008,907 L930,932 L825,943 L740,936 Z" fill="#7e8082" opacity="0.7" />
<path d="M100,785 L200,822 L367,870 L500,898 L642,925 L740,936 L700,1000 L520,975 L300,915 L150,850 Z" fill="#b4b6b8" opacity="0.5" />
<path d="M748,800 L880,735 L960,745 L1000,775 L975,810 L830,850 Z" fill="url(#g26)" opacity="1" />
<ellipse cx="875" cy="790" rx="72" ry="34" fill="#9eb6cc" transform="rotate(-8 875 790)"/><ellipse cx="878" cy="786" rx="46" ry="20" fill="#c0d4e4" transform="rotate(-8 878 786)"/>
</g>
<ellipse cx="694.1666666666666" cy="381.6666666666667" rx="7" ry="9" fill="#d98686" opacity="1" transform="rotate(-15 694.1666666666666 381.6666666666667)" />
<polygon points="692.9,373.0 712.2,367.3 717.8,384.4 698.7,391.0" fill="url(#g27)" opacity="1" />
<ellipse cx="715.0" cy="375.8333333333333" rx="4.5" ry="9" fill="#77797b" opacity="1" transform="rotate(-15 715.0 375.8333333333333)" />
<ellipse cx="695.3333333333334" cy="382.0" rx="5.5" ry="9.5" fill="#dc8c8c" opacity="1" transform="rotate(-15 695.3333333333334 382.0)" />
<polygon points="713.6,371.0 730.2,366.0 733.1,375.6 716.4,380.6" fill="url(#g28)" opacity="1" />
<polygon points="395.8,494.9 489.7,454.5 494.3,465.5 400.2,505.1" fill="url(#g29)" opacity="0.95" />
<polygon points="401.3,416.0 501.3,459.0 498.7,465.0 398.7,422.0" fill="url(#g30)" opacity="1" />
<polygon points="455.8,424.2 695.1,538.7 690.9,547.3 452.2,431.8" fill="url(#g31)" opacity="1" />
<g transform="translate(380 400) scale(0.200000)" >
<path d="M60,80 L150,60 L260,110 L300,170 L380,150 L420,190 L380,230 L300,210 L230,170 L130,150 L70,130 Z" fill="#8c8e90" opacity="1" />
<circle cx="345" cy="180" r="28" fill="#77797b"/><circle cx="400" cy="165" r="22" fill="#86888a"/>
<path d="M165,0 L265,0 L262,100 L240,135 L170,120 Z" fill="url(#g32)" opacity="1" />
<circle cx="212" cy="62" r="10" fill="#707274"/>
<path d="M545,300 L585,250 L640,255 L665,300 L660,380 L640,440 L590,460 L545,420 L530,360 Z" fill="url(#g33)" opacity="1" />
<circle cx="590" cy="345" r="40" fill="#9a9c9e"/><circle cx="585" cy="340" r="22" fill="#aeb0b2"/>
<path d="M650,395 C720,400 740,330 790,290 C820,268 850,262 880,258" fill="none" stroke="#9ea0a2" stroke-width="46" opacity="1" stroke-linecap="round" stroke-linejoin="round" />
<path d="M650,385 C715,390 735,322 786,282 C818,260 850,254 880,250" fill="none" stroke="#b8babc" stroke-width="12" opacity="0.8" stroke-linecap="round" stroke-linejoin="round" />
<path d="M850,250 L905,225 L960,255 L965,320 L930,345 L900,340 L895,375 L865,372 L862,335 L840,310 Z" fill="url(#g34)" opacity="1" />
<path d="M935,135 L1010,115" fill="none" stroke="#6c6e70" stroke-width="16" opacity="1" stroke-linecap="round" stroke-linejoin="round" />
<path d="M905,230 C930,200 950,170 965,140" fill="none" stroke="#8c8e90" stroke-width="22" opacity="1" stroke-linecap="round" stroke-linejoin="round" />
</g>
<polygon points="504.2,441.1 528.6,434.7 531.4,445.3 507.0,451.7" fill="url(#g35)" opacity="1" />
<ellipse cx="505.6" cy="446.4" rx="3" ry="5.5" fill="#b8bcbf" opacity="1" transform="rotate(-15 505.6 446.4)" />
<polygon points="544.7,424.8 558.8,421.3 563.2,436.7 549.3,441.2" fill="url(#g36)" opacity="1" />
<ellipse cx="561.0" cy="429.0" rx="4" ry="8" fill="#a8acaf" opacity="1" transform="rotate(-15 561.0 429.0)" />
<ellipse cx="540.0" cy="436.0" rx="8" ry="12" fill="#e89898" opacity="1" transform="rotate(-15 540.0 436.0)" />
<ellipse cx="539.2" cy="436.4" rx="3" ry="5" fill="#d88080" opacity="1" transform="rotate(-15 539.2 436.4)" />
<g transform="translate(380 400) scale(0.200000)" >
<path d="M-60,185 L70,235 L60,290 L-60,245 Z" fill="#707274" opacity="1" />
<path d="M70,215 C110,195 160,200 190,225 L150,420 C110,420 75,380 62,330 C55,290 55,245 70,215 Z" fill="url(#g37)" opacity="1" />
<path d="M190,225 C230,195 300,190 340,215 L420,290 L430,420 L380,480 C330,510 240,500 190,460 L150,420 C130,350 140,270 190,225 Z" fill="url(#g38)" opacity="1" />
<path d="M190,225 C140,270 130,350 150,420 L190,460" fill="none" stroke="#8e9295" stroke-width="8" opacity="0.8" stroke-linecap="round" stroke-linejoin="round" />
<path d="M250,215 C205,265 200,370 240,470" fill="none" stroke="#8a8e91" stroke-width="7" opacity="0.7" stroke-linecap="round" stroke-linejoin="round" />
<path d="M300,270 C340,250 400,270 420,300 L430,420 L380,470 C330,470 290,430 280,380 C275,330 280,295 300,270 Z" fill="url(#g39)" opacity="1" />
</g>
<polygon points="459.7,470.8 489.5,485.2 478.5,508.8 448.3,495.2" fill="url(#g40)" opacity="1" />
<ellipse cx="484.0" cy="497.0" rx="7" ry="13" fill="#8c8e90" opacity="1" transform="rotate(25 484.0 497.0)" />
<g transform="translate(560 400) scale(0.250000)" >
<path d="M590,338 C540,328 470,338 420,378 C380,408 350,440 335,478 L298,498 L288,560 L340,582 L382,542 L392,482 C422,442 470,402 520,392 L582,402 Z" fill="url(#g41)" opacity="1" />
<path d="M300,512 L340,520 L338,560 L302,552 Z" fill="#c4c8cb" opacity="1" />
<ellipse cx="560" cy="370" rx="32" ry="26" fill="#8c8e90"/>
<path d="M530,360 L560,350 L566,395 L538,400 Z" fill="#b4b8bb" opacity="1" />
<path d="M512,600 L545,572 L610,570 L640,600 L628,650 L560,668 L518,645 Z" fill="url(#g42)" opacity="1" />
<ellipse cx="588" cy="640" rx="40" ry="46" fill="#e8a4a4" transform="rotate(-10 588 640)"/><ellipse cx="596" cy="640" rx="12" ry="16" fill="#c88888"/>
<ellipse cx="735" cy="578" rx="18" ry="14" fill="#e8a4a4"/>
</g>
<g transform="translate(520 490) scale(0.166667)" >
</g>
<polygon points="546.0,518.1 570.8,529.5 561.2,551.5 536.0,540.9" fill="url(#g43)" opacity="1" />
<ellipse cx="541" cy="529.5" rx="4.5" ry="12.5" fill="#c8ccce" opacity="1" transform="rotate(24 541 529.5)" />
<line x1="541" y1="520.5" x2="566" y2="531.86" stroke="#9a9ea1" stroke-width="0.7" opacity="0.8" />
<line x1="541" y1="525.0" x2="566" y2="536.18" stroke="#9a9ea1" stroke-width="0.7" opacity="0.8" />
<line x1="541" y1="529.5" x2="566" y2="540.5" stroke="#9a9ea1" stroke-width="0.7" opacity="0.8" />
<line x1="541" y1="534.0" x2="566" y2="544.82" stroke="#9a9ea1" stroke-width="0.7" opacity="0.8" />
<line x1="541" y1="538.5" x2="566" y2="549.14" stroke="#9a9ea1" stroke-width="0.7" opacity="0.8" />
<polygon points="568.3,532.7 580.3,538.2 573.7,552.8 561.7,547.3" fill="url(#g44)" opacity="1" />
<g transform="translate(520 490) scale(0.166667)" >
<path d="M350,228 C300,260 272,370 295,455 L395,562 C380,450 420,300 500,213 C450,193 390,203 350,228 Z" fill="url(#g45)" opacity="1" />
<path d="M500,213 C560,210 625,245 665,292 L805,498 L742,602 C700,642 600,652 540,622 C470,592 410,572 395,562 C380,450 420,300 500,213 Z" fill="url(#g46)" opacity="1" />
<path d="M545,215 C500,337 412,462 440,585" fill="none" stroke="#545658" stroke-width="7" opacity="0.55" stroke-linecap="round" stroke-linejoin="round" />
<path d="M557,219 C512,337 424,462 452,585" fill="none" stroke="#8a8c8e" stroke-width="5" opacity="0.45" stroke-linecap="round" stroke-linejoin="round" />
<path d="M590,228 C545,352 462,480 490,605" fill="none" stroke="#545658" stroke-width="7" opacity="0.55" stroke-linecap="round" stroke-linejoin="round" />
<path d="M602,232 C557,352 474,480 502,605" fill="none" stroke="#8a8c8e" stroke-width="5" opacity="0.45" stroke-linecap="round" stroke-linejoin="round" />
<path d="M630,255 C585,376 512,500 540,622" fill="none" stroke="#545658" stroke-width="7" opacity="0.55" stroke-linecap="round" stroke-linejoin="round" />
<path d="M642,259 C597,376 524,500 552,622" fill="none" stroke="#8a8c8e" stroke-width="5" opacity="0.45" stroke-linecap="round" stroke-linejoin="round" />
<path d="M668,295 C623,406 562,521 590,633" fill="none" stroke="#545658" stroke-width="7" opacity="0.55" stroke-linecap="round" stroke-linejoin="round" />
<path d="M680,299 C635,406 574,521 602,633" fill="none" stroke="#8a8c8e" stroke-width="5" opacity="0.45" stroke-linecap="round" stroke-linejoin="round" />
<path d="M705,350 C660,443 612,538 640,632" fill="none" stroke="#545658" stroke-width="7" opacity="0.55" stroke-linecap="round" stroke-linejoin="round" />
<path d="M717,354 C672,443 624,538 652,632" fill="none" stroke="#8a8c8e" stroke-width="5" opacity="0.45" stroke-linecap="round" stroke-linejoin="round" />
<path d="M740,405 C695,476 662,550 690,622" fill="none" stroke="#545658" stroke-width="7" opacity="0.55" stroke-linecap="round" stroke-linejoin="round" />
<path d="M752,409 C707,476 674,550 702,622" fill="none" stroke="#8a8c8e" stroke-width="5" opacity="0.45" stroke-linecap="round" stroke-linejoin="round" />
<path d="M775,455 C730,505 702,557 730,608" fill="none" stroke="#545658" stroke-width="7" opacity="0.55" stroke-linecap="round" stroke-linejoin="round" />
<path d="M787,459 C742,505 714,557 742,608" fill="none" stroke="#8a8c8e" stroke-width="5" opacity="0.45" stroke-linecap="round" stroke-linejoin="round" />
<path d="M496,215 C416,300 376,450 391,560" fill="none" stroke="#a9bccc" stroke-width="22" opacity="1" stroke-linecap="round" stroke-linejoin="round" />
<path d="M510,215 C432,300 392,450 407,565" fill="none" stroke="#c6d2dc" stroke-width="4" opacity="1" stroke-linecap="round" stroke-linejoin="round" />
<path d="M728,508 L800,478 L838,522 L790,618 L735,600 C720,570 718,535 728,508 Z" fill="url(#g47)" opacity="1" />
</g>
<polygon points="659.7,575.6 706.1,602.4 697.3,616.9 652.0,588.4" fill="url(#g48)" opacity="1" />
<polygon points="703.9,598.4 717.4,605.0 705.9,625.0 693.4,616.6" fill="url(#g49)" opacity="1" />
<g transform="translate(500 580) scale(0.216685)" >
<path d="M690,450 L780,420 L820,350 L870,320 L960,300 L1010,330 L1030,400 L980,470 L900,520 L840,560 L760,560 Z" fill="url(#g50)" opacity="1" />
<path d="M820,350 L870,320 L900,335 L860,380 Z" fill="#4f5153" opacity="1" />
<ellipse cx="122" cy="432" rx="40" ry="52" fill="#c9cbcd" opacity="0.9"/><ellipse cx="118" cy="436" rx="20" ry="30" fill="#e8e8e8"/>
<path d="M283,268 L330,258 L378,330 L402,352 L350,398 L292,372 Z" fill="#9c9ea0" opacity="1" />
<ellipse cx="336" cy="336" rx="13" ry="17" fill="#ffffff" transform="rotate(-25 336 336)"/>
<path d="M150,375 L195,355 L260,410 L350,392 L400,350 L520,368 L620,400 L690,450 L760,540 L840,580 L900,690 L852,762 L822,802 L700,742 L560,642 L450,592 L330,582 L230,562 L150,500 L95,445 L110,400 Z" fill="url(#g51)" opacity="1" />
<path d="M400,350 L520,368 L620,400 L660,440 L560,470 L440,450 L380,400 Z" fill="url(#g52)" opacity="0.95" />
<path d="M405,355 L520,372 L618,404" fill="none" stroke="#a2a4a6" stroke-width="5" opacity="0.7" stroke-linecap="round" stroke-linejoin="round" />
<path d="M610,585 L700,560 L800,620 L850,700 L830,760 L720,700 Z" fill="#4e5052" opacity="0.9" />
<path d="M150,500 L230,562 L330,582 L450,592 L560,642 L700,742 L822,802 L840,770 L715,705 L570,610 L455,560 L335,550 L240,530 L170,470 Z" fill="url(#g53)" opacity="1" />
<path d="M800,600 L860,570 L950,560 L1010,590 L1000,650 L930,700 L860,690 Z" fill="#c6ced8" opacity="0.8" />
<path d="M870,680 L930,700 L1000,650 L1010,720 L960,770 L900,740 Z" fill="url(#g54)" opacity="1" />
</g>
<ellipse cx="688" cy="692" rx="24" ry="13" fill="#ffffff" opacity="0.5" filter="url(#b4)" transform="rotate(-20 688 692)"/>
<g transform="translate(680 520) scale(0.250000)" >
<path d="M168,-180 L250,-180 L238,85 L160,95 Z" fill="url(#g55)" opacity="1" />
<path d="M152,192 L216,200 L256,228 L280,260 L292,300 L250,312 L208,322 L188,280 L168,240 Z" fill="#85878a" opacity="1" />
<path d="M150,105 L224,86 L282,104 C342,140 388,200 404,272 L414,338 L330,354 L318,300 C312,256 290,216 260,192 C235,174 200,178 160,192 Z" fill="url(#g56)" opacity="1" />
<path d="M226,92 L280,108 C338,142 382,200 398,270" fill="none" stroke="#b2b4b6" stroke-width="6" opacity="0.7" stroke-linecap="round" stroke-linejoin="round" />
<path d="M160,192 C200,178 235,174 260,192 C290,216 312,256 318,300" fill="none" stroke="#7c7e80" stroke-width="7" opacity="0.7" stroke-linecap="round" stroke-linejoin="round" />
<path d="M118,268 L132,262 L160,300 L150,326 L128,318 Z" fill="#626466" opacity="1" />
<ellipse cx="345" cy="520" rx="52" ry="125" fill="url(#g57)" transform="rotate(20 345 520)"/>
<ellipse cx="322" cy="512" rx="46" ry="112" fill="url(#g58)" transform="rotate(20 322 512)"/>
<path d="M130,345 L238,303 L330,350 L410,336 L418,420 L375,470 L330,520 L322,600 L300,660 L255,705 L200,722 L142,692 L128,640 L178,598 L225,560 L240,470 L205,430 L150,430 Z" fill="url(#g59)" opacity="1" />
<path d="M238,303 L330,350 L375,470 L330,520 L290,430 L225,360 Z" fill="#8d8f91" opacity="0.8" />
<path d="M88,350 L160,322 L240,303 L262,420 L205,415 L120,432 L92,402 Z" fill="url(#g60)" opacity="1" />
<path d="M100,425 L200,402 L240,470 L225,560 L178,598 L125,565 L108,500 Z" fill="url(#g61)" opacity="1" />
<path d="M125,428 C113,478 125,525 150,575" fill="none" stroke="#505254" stroke-width="4" opacity="0.5" stroke-linecap="round" stroke-linejoin="round" />
<path d="M150,420 C138,470 153,540 178,590" fill="none" stroke="#505254" stroke-width="4" opacity="0.5" stroke-linecap="round" stroke-linejoin="round" />
<path d="M175,412 C163,462 180,525 205,575" fill="none" stroke="#505254" stroke-width="4" opacity="0.5" stroke-linecap="round" stroke-linejoin="round" />
<path d="M198,410 C186,460 203,498 228,548" fill="none" stroke="#505254" stroke-width="4" opacity="0.5" stroke-linecap="round" stroke-linejoin="round" />
<circle cx="190" cy="398" r="30" fill="#9a9c9e"/><circle cx="193" cy="400" r="17" fill="#b4b6b8"/><circle cx="194" cy="401" r="8" fill="#86888a"/>
<circle cx="180" cy="688" r="30" fill="#9c9ea0"/><circle cx="184" cy="690" r="17" fill="#aeb0b2"/>
<path d="M-20,755 L60,718 L150,733 L172,782 L130,832 L62,872 L-10,842 Z" fill="#c4ccd6" opacity="0.75" />
<path d="M55,800 L120,790 L170,860 L140,905 L95,880 Z" fill="url(#g62)" opacity="1" />
<path d="M168,748 L205,745 L212,840 L172,842 Z" fill="url(#g63)" opacity="1" />
<ellipse cx="190" cy="868" rx="50" ry="40" fill="#6a6c6e"/><ellipse cx="190" cy="862" rx="50" ry="30" fill="none" stroke="#b8c0c6" stroke-width="7"/><ellipse cx="188" cy="850" rx="26" ry="20" fill="#4e5052"/>
</g>
<g transform="translate(680 520) scale(0.250000)" >
<path d="M375,395 C395,330 470,250 560,228 C610,218 660,235 700,262 L640,290 C560,300 470,360 420,470 C400,440 385,420 375,395 Z" fill="#6f7173" opacity="1" />
<path d="M352,398 C385,395 410,420 425,470 L395,520 C385,470 370,430 352,398 Z" fill="#5d5f61" opacity="1" />
<path d="M262,912 L300,890 C330,930 380,965 420,975 L400,985 C340,975 290,950 262,912 Z" fill="#6c6e70" opacity="1" />
</g>
<ellipse cx="821.9509999659314" cy="675.0258969261662" rx="58.5" ry="93" fill="#b4b6b8" opacity="1" transform="rotate(24 821.9509999659314 675.0258969261662)" />
<ellipse cx="823.0472545151025" cy="675.5139808978572" rx="58" ry="92.5" fill="#a8aaac" opacity="1" transform="rotate(24 823.0472545151025 675.5139808978572)" />
<ellipse cx="826.9754999829657" cy="677.2629484630831" rx="58" ry="92.5" fill="none" opacity="1" transform="rotate(24 826.9754999829657 677.2629484630831)" stroke="#7e8082" stroke-width="5.5" stroke-dasharray="4 5.2"/>
<ellipse cx="830.8123909050646" cy="678.9712423640015" rx="58.5" ry="93" fill="#bfc1c3" opacity="1" transform="rotate(24 830.8123909050646 678.9712423640015)" />
<ellipse cx="832" cy="679.5" rx="58.5" ry="93" fill="url(#g64)" opacity="1" transform="rotate(24 832 679.5)" />
<ellipse cx="842" cy="685" rx="39" ry="64" fill="#a9abad" opacity="1" transform="rotate(24 842 685)" />
<ellipse cx="846" cy="687" rx="37.5" ry="62" fill="url(#g65)" opacity="1" transform="rotate(24 846 687)" />
<ellipse cx="851" cy="689.5" rx="36" ry="60" fill="#929496" opacity="1" transform="rotate(24 851 689.5)" stroke="#c4c6c8" stroke-width="1.6"/>
<g transform="translate(800 620) scale(0.133333)" >
<path d="M318,215 L385,190 L400,250 L335,285 Z" fill="#7c7e80" opacity="1" />
<path d="M120,440 L175,415 L195,490 L135,520 Z" fill="#7c7e80" opacity="1" />
<path d="M95,735 L150,720 L175,790 L120,810 Z" fill="#7c7e80" opacity="1" />
<path d="M400,150 L460,140 L470,175 L415,190 Z" fill="#7c7e80" opacity="1" />
</g>
<ellipse cx="870.5" cy="701.5" rx="38.5" ry="65" fill="#6c6e70" opacity="1" transform="rotate(24 870.5 701.5)" />
<ellipse cx="874.5" cy="703.5" rx="37.5" ry="64" fill="url(#g66)" opacity="1" transform="rotate(24 874.5 703.5)" />
<ellipse cx="880" cy="706.5" rx="28.5" ry="50" fill="#727476" opacity="1" transform="rotate(24 880 706.5)" />
<g transform="translate(800 620) scale(0.133333)" >
<path d="M520,300 L640,290 L800,400 L830,520 L760,700 L640,880 L520,860 L400,700 L380,560 L440,400 Z" fill="#808284" opacity="1" />
<path d="M520,300 L640,290 L800,400 L780,430 L640,340 L540,345 L460,430 L420,560 L380,560 L440,400 Z" fill="#909294" opacity="1" />
<ellipse cx="690" cy="690" rx="112" ry="172" fill="#66686a" transform="rotate(24 690 690)"/>
<ellipse cx="722" cy="704" rx="82" ry="146" fill="#7c7e80" transform="rotate(24 722 704)"/>
</g>
<g transform="translate(800 620) scale(0.133333)" >
</g>
<polygon points="876.6,657.9 896.6,666.9 894.1,672.3 874.1,663.4" fill="url(#g67)" opacity="1" />
<ellipse cx="895.3333333333334" cy="669.6" rx="1.92" ry="3.0" fill="#7c7e80" opacity="1" transform="rotate(24 895.3333333333334 669.6)" />
<polygon points="907.8,663.8 924.5,672.2 922.2,676.6 905.5,668.2" fill="url(#g68)" opacity="1" />
<ellipse cx="923.3333333333334" cy="674.4" rx="1.6" ry="2.5" fill="#7c7e80" opacity="1" transform="rotate(24 923.3333333333334 674.4)" />
<polygon points="845.4,697.5 870.8,708.8 867.9,715.2 842.6,703.9" fill="url(#g69)" opacity="1" />
<ellipse cx="869.3333333333334" cy="712.0" rx="2.24" ry="3.5" fill="#7c7e80" opacity="1" transform="rotate(24 869.3333333333334 712.0)" />
<polygon points="842.8,720.0 854.8,726.7 851.9,732.0 839.9,725.3" fill="url(#g70)" opacity="1" />
<ellipse cx="853.3333333333334" cy="729.3333333333334" rx="1.92" ry="3.0" fill="#7c7e80" opacity="1" transform="rotate(24 853.3333333333334 729.3333333333334)" />
<polygon points="855.3,742.0 865.3,752.0 860.0,757.3 850.0,747.3" fill="url(#g71)" opacity="1" />
<ellipse cx="862.6666666666666" cy="754.6666666666666" rx="2.4" ry="3.75" fill="#7c7e80" opacity="1" transform="rotate(24 862.6666666666666 754.6666666666666)" />
<polygon points="880.1,749.3 890.7,756.6 887.9,760.7 877.3,753.4" fill="url(#g72)" opacity="1" />
<ellipse cx="889.3333333333334" cy="758.6666666666666" rx="1.6" ry="2.5" fill="#7c7e80" opacity="1" transform="rotate(24 889.3333333333334 758.6666666666666)" />
<g transform="translate(800 620) scale(0.133333)" >
<circle cx="440" cy="470" r="9" fill="#d8dadc"/>
<circle cx="500" cy="490" r="9" fill="#d8dadc"/>
<circle cx="470" cy="440" r="9" fill="#d8dadc"/>
<circle cx="740" cy="350" r="9" fill="#d8dadc"/>
<circle cx="700" cy="430" r="9" fill="#d8dadc"/>
<circle cx="340" cy="770" r="9" fill="#d8dadc"/>
<circle cx="380" cy="800" r="9" fill="#d8dadc"/>
</g>
<g transform="translate(800 620) scale(0.133333)" >
<g transform="translate(42 18)">
<path d="M870,560 C900,550 960,570 990,600 L1010,580 C1060,580 1120,620 1150,660 L1130,700 C1150,760 1150,820 1120,900 L1140,950 C1120,1010 1060,1080 1010,1100 L960,1080 C900,1100 840,1090 800,1060 L760,1070 C720,1040 690,990 690,940 L720,900 C700,860 700,800 720,760 L705,720 C720,660 790,590 870,560 Z" fill="#747678" opacity="1" />
</g>
<path d="M870,560 C900,550 960,570 990,600 L1010,580 C1060,580 1120,620 1150,660 L1130,700 C1150,760 1150,820 1120,900 L1140,950 C1120,1010 1060,1080 1010,1100 L960,1080 C900,1100 840,1090 800,1060 L760,1070 C720,1040 690,990 690,940 L720,900 C700,860 700,800 720,760 L705,720 C720,660 790,590 870,560 Z" fill="#7e8082" opacity="1" />
<path d="M870,560 C900,550 960,570 990,600 L1010,580 C1060,580 1120,620 1150,660 L1130,700 C1150,760 1150,820 1120,900 L1100,880 C1120,800 1110,740 1090,700 L1100,670 C1080,640 1040,615 1010,612 L990,630 C960,600 900,585 870,590 C800,620 740,680 730,730 L705,720 C720,660 790,590 870,560 Z" fill="#949698" opacity="1" />
<ellipse cx="975" cy="850" rx="100" ry="178" fill="#8c8e90" transform="rotate(24 975 850)"/>
<ellipse cx="950" cy="842" rx="78" ry="160" fill="#ffffff" transform="rotate(24 950 842)"/>
</g>
<g transform="translate(900 660) scale(0.166667)" >
<ellipse cx="305" cy="505" rx="98" ry="150" fill="#8e9295" transform="rotate(24 305 505)" />
<ellipse cx="335" cy="515" rx="98" ry="150" fill="url(#g74)" transform="rotate(24 335 515)" />
<ellipse cx="340" cy="520" rx="66" ry="108" fill="#7f8386" transform="rotate(24 340 520)" />
<ellipse cx="352" cy="524" rx="56" ry="98" fill="url(#g75)" transform="rotate(24 352 524)" />
<ellipse cx="335" cy="520" rx="46" ry="92" fill="#ffffff" transform="rotate(24 335 520)" />
<ellipse cx="468" cy="588" rx="74" ry="132" fill="none" transform="rotate(24 468 588)" stroke="#85898c" stroke-width="24"/>
<ellipse cx="462" cy="585" rx="76" ry="135" fill="none" transform="rotate(24 462 585)" stroke="url(#g76)" stroke-width="20"/>
<path d="M520,560 L640,520 C700,530 750,600 760,680 L750,760 L620,800 C540,800 470,740 470,660 C470,610 490,580 520,560 Z" fill="url(#g77)" opacity="1" />
<path d="M640,520 C700,530 750,600 760,680 L750,760 C730,780 700,780 680,770 C700,700 680,600 620,540 Z" fill="url(#g78)" opacity="1" />
<ellipse cx="715" cy="690" rx="48" ry="88" fill="#9ea2a5" transform="rotate(24 715 690)" />
<ellipse cx="722" cy="694" rx="38" ry="76" fill="#bcc0c2" transform="rotate(24 722 694)" />
<path d="M560,545 C620,560 650,640 640,790" fill="none" stroke="#7e8285" stroke-width="7" opacity="1" stroke-linecap="round" stroke-linejoin="round" />
<path d="M600,532 C660,550 690,630 680,780" fill="none" stroke="#8a8e91" stroke-width="5" opacity="1" stroke-linecap="round" stroke-linejoin="round" />
</g>
<polygon points="1018.1,749.3 1048.9,761.0 1047.8,764.0 1016.9,752.3" fill="url(#g79)" opacity="1" />
<ellipse cx="1017.5" cy="750.8333333333334" rx="0.96" ry="1.6" fill="#a8acaf" opacity="1" transform="rotate(24 1017.5 750.8333333333334)" />
<polygon points="1033.9,751.8 1050.6,758.5 1049.4,761.5 1032.7,754.8" fill="url(#g80)" opacity="1" />
<ellipse cx="1033.3333333333333" cy="753.3333333333334" rx="0.96" ry="1.6" fill="#a8acaf" opacity="1" transform="rotate(24 1033.3333333333333 753.3333333333334)" />
<polygon points="998.9,775.2 1028.9,787.7 1027.7,790.6 997.7,778.1" fill="url(#g81)" opacity="1" />
<ellipse cx="998.3333333333334" cy="776.6666666666666" rx="0.96" ry="1.6" fill="#a8acaf" opacity="1" transform="rotate(24 998.3333333333334 776.6666666666666)" />
<g transform="translate(900 660) scale(0.166667)" >
<ellipse cx="852" cy="785" rx="128" ry="228" fill="#9da1a4" transform="rotate(24 852 785)" />
<ellipse cx="872" cy="792" rx="124" ry="224" fill="url(#g82)" transform="rotate(24 872 792)" />
<ellipse cx="905" cy="800" rx="80" ry="160" fill="#77797b" transform="rotate(24 905 800)" opacity="0.7"/>
<circle cx="905" cy="600" r="11" fill="#d4d8da"/>
<circle cx="906" cy="602" r="6" fill="#9a9ea1"/>
<circle cx="1010" cy="650" r="11" fill="#d4d8da"/>
<circle cx="1011" cy="652" r="6" fill="#9a9ea1"/>
<circle cx="985" cy="830" r="11" fill="#d4d8da"/>
<circle cx="986" cy="832" r="6" fill="#9a9ea1"/>
<circle cx="870" cy="980" r="11" fill="#d4d8da"/>
<circle cx="871" cy="982" r="6" fill="#9a9ea1"/>
<circle cx="770" cy="975" r="11" fill="#d4d8da"/>
<circle cx="771" cy="977" r="6" fill="#9a9ea1"/>
<circle cx="780" cy="790" r="11" fill="#d4d8da"/>
<circle cx="781" cy="792" r="6" fill="#9a9ea1"/>
<circle cx="890" cy="645" r="11" fill="#d4d8da"/>
<circle cx="891" cy="647" r="6" fill="#9a9ea1"/>
</g>
<polygon points="996.6,802.5 1027.4,816.7 1025.9,820.0 995.1,805.8" fill="url(#g83)" opacity="1" />
<ellipse cx="995.8333333333334" cy="804.1666666666666" rx="1.08" ry="1.8" fill="#a8acaf" opacity="1" transform="rotate(24 995.8333333333334 804.1666666666666)" />
<polygon points="1012.4,803.8 1024.9,809.3 1023.5,812.4 1011.0,806.9" fill="url(#g84)" opacity="1" />
<ellipse cx="1011.6666666666666" cy="805.3333333333334" rx="1.02" ry="1.7" fill="#a8acaf" opacity="1" transform="rotate(24 1011.6666666666666 805.3333333333334)" />
<g transform="translate(500 580) scale(0.216685)" >
</g>
<path d="M384.0,529.0 L460.0,573.0 L497.0,594.5 L520.0,608.7 L540.0,620.7 L560.0,630.0 L580.0,635.3 L600.0,639.3 L620.0,642.7 L637.0,642.9 L647.0,637.5" fill="none" stroke="#85878a" stroke-width="8.6" stroke-linejoin="round" stroke-linecap="round"/>
<path d="M384.0,529.0 L460.0,573.0 L497.0,594.5 L520.0,608.7 L540.0,620.7 L560.0,630.0 L580.0,635.3 L600.0,639.3 L620.0,642.7 L637.0,642.9 L647.0,637.5" fill="none" stroke="#9c9ea0" stroke-width="3" stroke-linejoin="round" stroke-linecap="round" transform="translate(0.8 -1.4)"/>
<ellipse cx="658.5" cy="634" rx="13" ry="8.5" fill="#6c6e70" opacity="1" />
<ellipse cx="658.5" cy="632.5" rx="12.5" ry="7.5" fill="#808284" opacity="1" />
<ellipse cx="658.5" cy="632" rx="4" ry="2.5" fill="#555759" opacity="1" />
<g transform="translate(500 580) scale(0.216685)" >
<ellipse cx="735" cy="115" rx="46" ry="17" fill="#a9c6ce"/><ellipse cx="735" cy="112" rx="12" ry="5" fill="#ffffff"/>
<path d="M692,140 L778,140 L772,185 L698,185 Z" fill="#e58a8a" opacity="1" />
<ellipse cx="735" cy="140" rx="43" ry="13" fill="#f0a6a6"/>
<path d="M722,185 L748,185 L748,215 L722,215 Z" fill="#c0c4c8" opacity="1" />
</g>
<g transform="translate(500 580) scale(0.216685)" >
<path d="M692,295 L778,295 L772,338 L698,338 Z" fill="#e58a8a" opacity="1" />
<ellipse cx="735" cy="297" rx="43" ry="12" fill="#d97a7a"/>
<path d="M726,338 L744,338 L744,440 L726,440 Z" fill="#6a6c6e" opacity="1" />
<path d="M716,430 L754,430 L754,500 L716,500 Z" fill="url(#g85)" opacity="1" />
<ellipse cx="740" cy="498" rx="50" ry="19" fill="#a9c6ce"/>
<path d="M730,500 L742,500 L742,550 L730,550 Z" fill="#77797b" opacity="1" />
<path d="M700,555 L776,555 L770,605 L706,605 Z" fill="#e58a8a" opacity="1" />
<ellipse cx="738" cy="556" rx="38" ry="12" fill="#f0a6a6"/>
<ellipse cx="742" cy="627" rx="13" ry="7" fill="#f0f0f0"/>
<path d="M710,815 L786,815 L782,855 L714,855 Z" fill="#d98080" opacity="1" />
<ellipse cx="748" cy="816" rx="38" ry="13" fill="#c97070"/><ellipse cx="748" cy="855" rx="34" ry="10" fill="#d98080"/><ellipse cx="748" cy="816" rx="12" ry="5" fill="#a85a5a"/>
<ellipse cx="748" cy="908" rx="43" ry="17" fill="#a9c6ce"/><ellipse cx="748" cy="906" rx="13" ry="6" fill="#ffffff"/>
<path d="M255,800 L300,765 L330,800 L400,835 L432,800 L438,720 L420,680 L440,650 L400,640 L372,690 L380,760 L360,800 L310,790 L280,825 Z" fill="url(#g86)" opacity="1" />
<path d="M232,690 L275,632 L300,628 L352,660 L365,720 L345,775 L300,775 L262,735 Z" fill="#e3a3a3" opacity="1" />
<path d="M275,632 L300,628 L352,660 L325,672 Z" fill="#edbcbc" opacity="1" />
<ellipse cx="318" cy="728" rx="14" ry="18" fill="#cf8c8c"/>
</g>
<g transform="translate(260 420) scale(0.166667)" >
<path d="M440,560 L470,500 L560,450 L690,410 L760,470 L790,590 L760,640 L620,700 L560,700 L470,690 Z" fill="#c9cbc6" opacity="0.9" filter="url(#b2)"/>
</g>
<ellipse cx="382" cy="510" rx="6.5" ry="11.8" fill="#b01010" opacity="1" transform="rotate(-12 382 510)" />
<polygon points="345.3,508.4 378.8,498.6 385.2,521.4 351.7,530.6" fill="url(#g87)" opacity="1" />
<ellipse cx="351.8672237639172" cy="518.5451156490384" rx="7" ry="12.3" fill="#a50c0c" opacity="1" transform="rotate(-12 351.8672237639172 518.5451156490384)" />
<polygon points="345.1,507.7 348.5,506.7 355.2,530.4 351.9,531.3" fill="url(#g88)" opacity="1" />
<ellipse cx="348.5" cy="519.5" rx="7" ry="12.3" fill="url(#g89)" opacity="1" transform="rotate(-12 348.5 519.5)" />
<ellipse cx="348.8" cy="520.0" rx="2.94" ry="5.166" fill="#3a0505" opacity="1" transform="rotate(-12 348.8 520.0)" />
<path d="M0,-11.4 A3.2,11.4 0 0 0 0,11.4" transform="translate(366.5 513.4) rotate(-14)" fill="none" stroke="#8e0a0a" stroke-width="1.8" opacity="0.85"/>
<path d="M0,-12.4 A4,12.4 0 0 0 0,12.4" transform="translate(380 509.6) rotate(-14)" fill="none" stroke="#a80e0e" stroke-width="2.2" opacity="0.9"/>
<line x1="353.5" y1="508.2" x2="364.5" y2="505.2" stroke="#ffc4ba" stroke-width="3.2" opacity="0.9" stroke-linecap="round"/>
<line x1="369" y1="504.2" x2="377.5" y2="501.8" stroke="#ffc4ba" stroke-width="3.2" opacity="0.9" stroke-linecap="round"/>
<ellipse cx="334" cy="526" rx="4.5" ry="9.5" fill="#77797b" opacity="1" transform="rotate(-18 334 526)" />
<polygon points="470.0,662.9 517.0,644.9 521.0,655.1 474.0,673.1" fill="url(#g90)" opacity="1" />
<ellipse cx="472" cy="668" rx="2.6" ry="5.3" fill="#1c1c1c" opacity="1" transform="rotate(-21 472 668)" />
<ellipse cx="546" cy="638" rx="6.5" ry="13" fill="#b01010" opacity="1" transform="rotate(-14 546 638)" />
<polygon points="517.5,633.9 542.0,625.6 550.0,650.4 525.5,658.1" fill="url(#g91)" opacity="1" />
<ellipse cx="525.302421825964" cy="644.7583928731547" rx="7.5" ry="14.5" fill="#a50c0c" opacity="1" transform="rotate(-14 525.302421825964 644.7583928731547)" />
<polygon points="517.0,632.2 520.8,631.0 529.8,658.5 526.0,659.8" fill="url(#g92)" opacity="1" />
<ellipse cx="521.5" cy="646" rx="7.5" ry="14.5" fill="url(#g93)" opacity="1" transform="rotate(-14 521.5 646)" />
<ellipse cx="521.8" cy="646.5" rx="3.15" ry="6.09" fill="#3a0505" opacity="1" transform="rotate(-14 521.8 646.5)" />
<ellipse cx="603.5" cy="610" rx="6.5" ry="13" fill="#b01010" opacity="1" transform="rotate(-12 603.5 610)" />
<polygon points="580.5,603.2 600.0,597.5 607.0,622.5 587.5,627.8" fill="url(#g94)" opacity="1" />
<ellipse cx="587.8497987039456" cy="614.4141593399128" rx="7.5" ry="13.5" fill="#a50c0c" opacity="1" transform="rotate(-12 587.8497987039456 614.4141593399128)" />
<polygon points="580.3,602.5 584.2,601.4 591.5,627.4 587.7,628.5" fill="url(#g95)" opacity="1" />
<ellipse cx="584" cy="615.5" rx="7.5" ry="13.5" fill="url(#g96)" opacity="1" transform="rotate(-12 584 615.5)" />
<ellipse cx="584.3" cy="616.0" rx="3.15" ry="5.67" fill="#3a0505" opacity="1" transform="rotate(-12 584.3 616.0)" />
<line x1="371.5" y1="529.5" x2="530.6" y2="826.6" stroke="#7c7c7c" stroke-width="1.5" opacity="1" />
<line x1="531.5" y1="660" x2="531" y2="826" stroke="#7c7c7c" stroke-width="1.5" opacity="1" />
<ellipse cx="530.6" cy="826.6" rx="6.4" ry="6.4" fill="#999999" opacity="1" />
</g>
<rect x="42.75" y="214.25" width="1115.5" height="711" fill="none" stroke="#8f8f8f" stroke-width="2.5"/>
<text x="72.00" y="261.6" font-size="38.4" fill="#000" stroke="#000" stroke-width="1.8" stroke-linejoin="round" textLength="175.30" lengthAdjust="spacingAndGlyphs">DOUBLE</text>
<text x="262.50" y="261.6" font-size="38.4" fill="#000" stroke="#000" stroke-width="1.8" stroke-linejoin="round" textLength="207.00" lengthAdjust="spacingAndGlyphs">CONTROL</text>
<text x="484.00" y="261.6" font-size="38.4" fill="#000" stroke="#000" stroke-width="1.8" stroke-linejoin="round" textLength="94.90" lengthAdjust="spacingAndGlyphs">ARM</text>
<text x="597.50" y="261.6" font-size="38.4" fill="#000" stroke="#000" stroke-width="1.8" stroke-linejoin="round" textLength="140.50" lengthAdjust="spacingAndGlyphs">FRONT</text>
<text x="755.00" y="261.6" font-size="38.4" fill="#000" stroke="#000" stroke-width="1.8" stroke-linejoin="round" textLength="280.30" lengthAdjust="spacingAndGlyphs">SUSPENSION</text>
<text x="927.8" y="315.6" font-size="35.6" fill="#cc0000" stroke="#cc0000" stroke-width="1.4" stroke-linejoin="round" textLength="199.5" lengthAdjust="spacingAndGlyphs">Rear View</text>
<text x="435.5" y="859.6" font-size="20.6" fill="#c8100e" textLength="194" lengthAdjust="spacingAndGlyphs">Lower Control Arm</text>
<text x="462.5" y="884.6" font-size="20.6" fill="#c8100e" textLength="140" lengthAdjust="spacingAndGlyphs">Rear Bushing</text>
<text x="969.7" y="904.3" font-size="33" fill="#e8311f" stroke="#e8311f" stroke-width="2.2" stroke-linejoin="round" textLength="153.8" lengthAdjust="spacingAndGlyphs">Nolathane</text>
<circle cx="1128" cy="888.6" r="2" fill="none" stroke="#e8311f" stroke-width="0.7"/>
</svg>
</body></html>
